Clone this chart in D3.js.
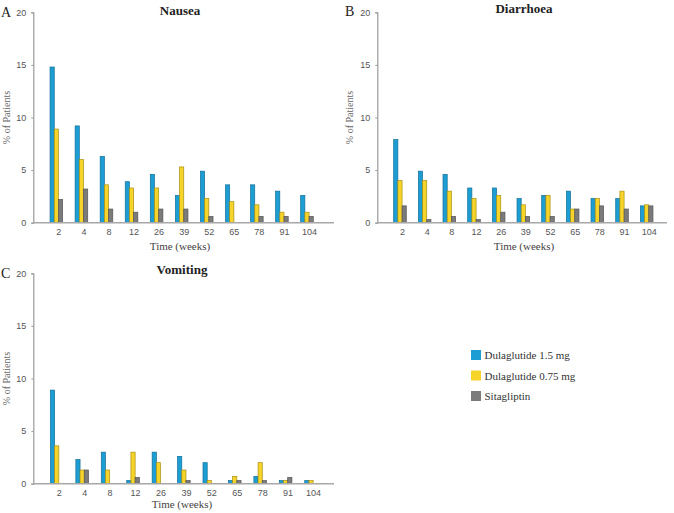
<!DOCTYPE html>
<html><head><meta charset="utf-8">
<script src="https://cdn.jsdelivr.net/npm/d3@7"></script>
<style>body{margin:0;background:#fff}svg{display:block}</style>
</head><body>
<svg id="c" width="674" height="513"></svg>
<script>
const weeks = ["2","4","8","12","26","39","52","65","78","91","104"];
const seriesNames = ["Dulaglutide 1.5 mg","Dulaglutide 0.75 mg","Sitagliptin"];
const yTicks = [0,5,10,15,20];
const nauseaDula15 = [14.8,9.2,6.3,3.9,4.6,2.6,4.9,3.6,3.6,3.0,2.6];
const nauseaDula075 = [8.9,6.0,3.6,3.3,3.3,5.3,2.3,2.0,1.7,1.0,1.0];
const nauseaSita = [2.2,3.2,1.3,1.0,1.3,1.3,0.6,0,0.6,0.6,0.6];
const diarDula15 = [7.9,4.9,4.6,3.3,3.3,2.3,2.6,3.0,2.3,2.3,1.6];
const diarDula075 = [4.0,4.0,3.0,2.3,2.6,1.7,2.6,1.3,2.3,3.0,1.7];
const diarSita = [1.6,0.3,0.6,0.3,1.0,0.6,0.6,1.3,1.6,1.3,1.6];
const vomDula15 = [8.9,2.3,3.0,0.3,3.0,2.6,2.0,0.3,0.7,0.3,0.3];
const vomDula075 = [3.6,1.3,1.3,3.0,2.0,1.3,0.3,0.7,2.0,0.3,0.3];
const vomSita = [0,1.3,0,0.6,0,0.3,0,0.3,0.3,0.6,0];

const fills = ["#1c9dd4","#f7d42a","#7b7b7b"];
const strokes = ["#146f96","#a88f10","#555555"];
const svg = d3.select("#c");
const serif = "'Liberation Serif','DejaVu Serif',serif";
const sans = "'Liberation Sans',Arial,sans-serif";

function panel(cfg){
  const g = svg.append("g");
  const x = d3.scaleLinear().domain([0,12]).range([cfg.x0, cfg.x0+12*cfg.step]);
  const y = d3.scaleLinear().domain([0,20]).range([cfg.yb, cfg.yt]);
  const bw = 4.2;
  const sets = [cfg.a, cfg.b, cfg.c];
  sets.forEach((vals, s) => {
    const items = vals.map((v,i)=>({v:v, i:i})).filter(d=>d.v>0);
    g.selectAll(null).data(items).enter().append("rect")
      .attr("x", d=> x(d.i+1) - 2 - 1.5*bw + s*bw)
      .attr("y", d=> y(d.v))
      .attr("width", bw)
      .attr("height", d=> y(0)-y(d.v))
      .attr("fill", fills[s])
      .attr("stroke", strokes[s])
      .attr("stroke-width", 0.7);
  });
  // y axis
  const ya = d3.axisLeft(y).tickValues(yTicks).tickSize(2).tickPadding(5);
  const yg = g.append("g").attr("transform",`translate(${cfg.x0},0)`).call(ya);
  yg.select(".domain").attr("stroke","#9a9a9a").attr("stroke-width",1.2);
  yg.selectAll(".tick line").attr("stroke","#9a9a9a");
  yg.selectAll("text").attr("font-family",sans).attr("font-size",9).attr("fill","#555");
  // x axis
  const xa = d3.axisBottom(x).tickValues(d3.range(1,12)).tickFormat((d)=>weeks[d-1]).tickSize(0).tickPadding(6);
  const xg = g.append("g").attr("transform",`translate(0,${cfg.yb})`).call(xa);
  xg.select(".domain").remove();
  xg.selectAll("text").attr("font-family",sans).attr("font-size",9).attr("fill","#555");
  g.append("line").attr("x1",cfg.x0).attr("x2",cfg.xEnd).attr("y1",cfg.yb).attr("y2",cfg.yb)
    .attr("stroke","#a8a8a8").attr("stroke-width",1.5);
  // titles
  g.append("text").attr("x",cfg.tx).attr("y",cfg.tyb).attr("text-anchor","middle")
    .attr("font-family",serif).attr("font-weight","bold").attr("font-size",13).attr("fill","#222").text(cfg.title);
  g.append("text").attr("x",cfg.lx).attr("y",cfg.lyb).attr("font-family",serif).attr("font-size",14).attr("fill","#222").text(cfg.letter);
  g.append("text").attr("x",cfg.tx).attr("y",cfg.yb+cfg.xto).attr("text-anchor","middle")
    .attr("font-family",serif).attr("font-size",11).attr("fill","#444").text("Time (weeks)");
  g.append("text").attr("transform",`translate(${cfg.ylx},${(cfg.yt+cfg.yb)/2}) rotate(-90)`)
    .attr("text-anchor","middle").attr("font-family",serif).attr("font-size",10).attr("fill","#666").text("% of Patients");
}

panel({x0:33.3, step:25.06, xEnd:334, yt:12.3, yb:222.7, a:nauseaDula15, b:nauseaDula075, c:nauseaSita,
  title:"Nausea", tx:180, tyb:15, letter:"A", lx:1, lyb:17, ylx:9.5, xto:27});
panel({x0:377.3, step:24.67, xEnd:667, yt:12.3, yb:222.7, a:diarDula15, b:diarDula075, c:diarSita,
  title:"Diarrhoea", tx:524, tyb:12.5, letter:"B", lx:345, lyb:15.5, ylx:353, xto:27});
panel({x0:33.3, step:25.43, xEnd:334, yt:273.3, yb:483.7, a:vomDula15, b:vomDula075, c:vomSita,
  title:"Vomiting", tx:182, tyb:273.5, letter:"C", lx:1, lyb:278, ylx:9.5, xto:24.5});

// legend
const lg = svg.append("g").attr("transform","translate(471,350)");
seriesNames.forEach((n,i)=>{
  lg.append("rect").attr("x",0).attr("y",i*20.5).attr("width",10).attr("height",10).attr("fill",fills[i]);
  lg.append("text").attr("x",13.5).attr("y",i*20.5+9).attr("font-family",serif).attr("font-size",11).attr("fill","#333").text(n);
});
</script>
</body></html>
